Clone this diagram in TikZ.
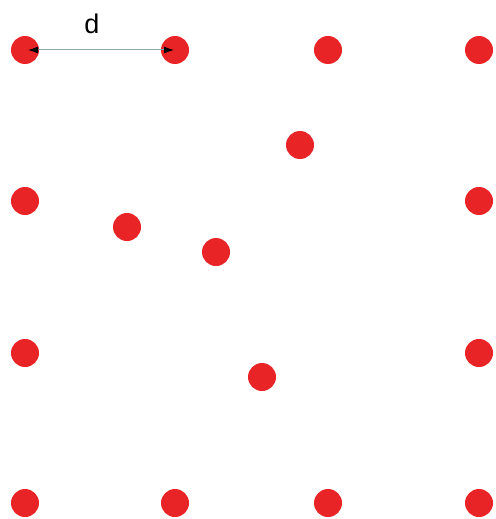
\documentclass[tikz,border=0pt]{standalone}
\usepackage{fontspec}
\setmainfont{Liberation Sans}
\usetikzlibrary{arrows.meta}
\definecolor{dotred}{RGB}{232,36,38}
\definecolor{linegray}{RGB}{140,165,175}
\begin{document}
\begin{tikzpicture}[x=1pt,y=-1pt,
  dot/.style={circle,fill=dotred,draw=none,minimum size=28pt,inner sep=0pt},
  dimarrow/.style={linegray,line width=1pt,{Latex[black,length=10pt,width=7pt]}-{Latex[black,length=10pt,width=7pt]}}]
\useasboundingbox (0,0) rectangle (495,519);
\node[dot] (g00) at (25,50) {};
\node[dot] (g01) at (175,50) {};
\node[dot] (g02) at (328,50) {};
\node[dot] (g03) at (479,50) {};
\node[dot] (g10) at (25,201) {};
\node[dot] (g13) at (479,201) {};
\node[dot] (g20) at (25,353) {};
\node[dot] (g23) at (479,353) {};
\node[dot] (g30) at (25,503) {};
\node[dot] (g31) at (175,503) {};
\node[dot] (g32) at (328,503) {};
\node[dot] (g33) at (479,503) {};
\node[dot] (p1) at (300,145) {};
\node[dot] (p2) at (127,227) {};
\node[dot] (p3) at (216,252) {};
\node[dot] (p4) at (262,377) {};
\path (g00.center) ++(3,0) coordinate (a1);
\path (g01.center) ++(-1,0) coordinate (a2);
\draw[dimarrow] (a1) -- (a2);
\node[font=\fontsize{27}{30}\selectfont] (dlab) at (92,24) {d};
\end{tikzpicture}
\end{document}
